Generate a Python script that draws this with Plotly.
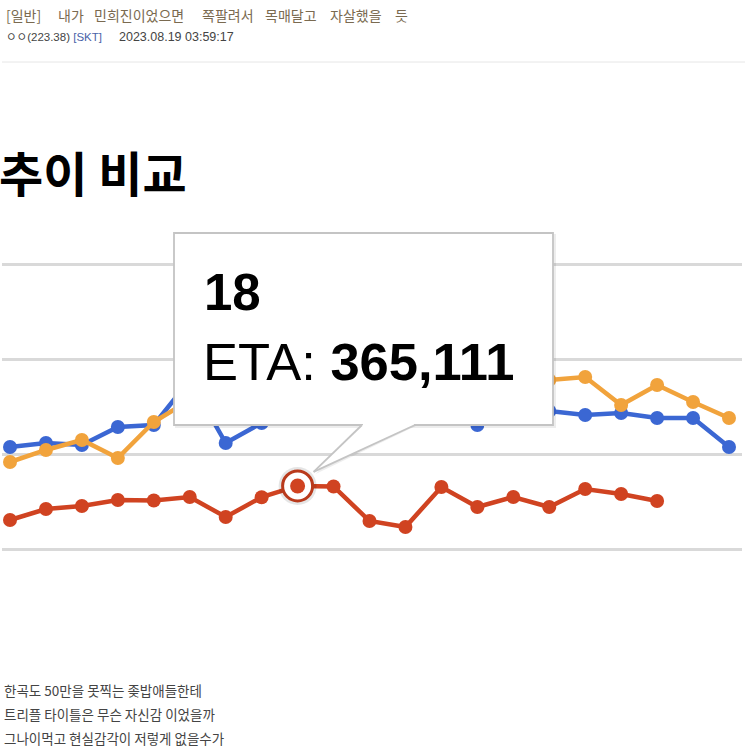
import plotly.graph_objects as go

# ---------------- data ----------------
categories = [10, 11, 12, 13, 14, 15, 16, 17, 18, 19, 20,
              21, 22, 23, 24, 25, 26, 27, 28, 29, 30]
eta = [167900, 231600, 249000, 283700, 281000, 301000, 185300, 300000,
       365111, 362000, 162100, 127400, 359000, 243200, 301000, 243000,
       347400, 318400, 277900]
series_blue = [590500, 613700, 602100, 706300, 717900, 978400, 613700,
               729500, 833700, 862600, 891600, 862600, 804700, 717900,
               775800, 798900, 775800, 787400, 758400, 758400, 590500]
series_orange = [503700, 573200, 631100, 526800, 735300, 862600, 920500,
                 949500, 978400, 990000, 949500, 932100, 961000, 978400,
                 990000, 978400, 995800, 833700, 949500, 851000, 758400]
grid_values = [0, 550000, 1100000, 1650000]
highlight_index = 8

title_text = "추이 비교"
header_words = ["[일반]", "내가", "민희진이었으면", "쪽팔려서", "목매달고", "자살했을", "듯"]
body_lines = ["한곡도 50만을 못찍는 좆밥애들한테",
              "트리플 타이틀은 무슨 자신감 이었을까",
              "그나이먹고 현실감각이 저렇게 없을수가"]

# ---------------- geometry ----------------
W, H = 745, 750
X_FIRST_PX, X_STEP_PX = 10, 35.95          # pixel of first category, pixels per category
Y_BASE_PX, Y_PX_PER_UNIT = 549, 95 / 550000
PLOT_LEFT_PX, PLOT_RIGHT_PX = 2, 742


def px(x):
    return x / W


def py(y):
    return 1 - y / H


x_range = [categories[0] + (PLOT_LEFT_PX - X_FIRST_PX) / X_STEP_PX,
           categories[0] + (PLOT_RIGHT_PX - X_FIRST_PX) / X_STEP_PX]
y_range = [(Y_BASE_PX - H) / Y_PX_PER_UNIT, Y_BASE_PX / Y_PX_PER_UNIT]

BLUE = "#3b67d3"
ORANGE = "#f1a33c"
RED = "#d04321"

fig = go.Figure()

for vals, col, name in [(series_blue, BLUE, "B"), (series_orange, ORANGE, "C"),
                        (eta, RED, "ETA")]:
    fig.add_trace(go.Scatter(
        x=categories[:len(vals)], y=vals, mode="lines+markers", name=name,
        line=dict(color=col, width=4.5), marker=dict(color=col, size=14),
        cliponaxis=False, hoverinfo="skip"))

# highlighted point
hx, hy = categories[highlight_index], eta[highlight_index]
fig.add_trace(go.Scatter(x=[hx], y=[hy], mode="markers",
                         marker=dict(size=38, color="rgba(0,0,0,0.10)"),
                         cliponaxis=False, hoverinfo="skip"))
fig.add_trace(go.Scatter(x=[hx], y=[hy], mode="markers",
                         marker=dict(size=30, color="white",
                                     line=dict(color="#b93a1c", width=3)),
                         cliponaxis=False, hoverinfo="skip"))
fig.add_trace(go.Scatter(x=[hx], y=[hy], mode="markers",
                         marker=dict(size=15, color=RED),
                         cliponaxis=False, hoverinfo="skip"))

# ---------------- tooltip ----------------
bx0, bx1, by0, by1 = 174, 553, 233, 425
hpx = X_FIRST_PX + (hx - categories[0]) * X_STEP_PX
hpy = Y_BASE_PX - hy * Y_PX_PER_UNIT
tip = (hpx + 16, hpy - 14)
tail_l, tail_r = 362, 415

shapes = []
# header separator
shapes.append(dict(type="line", xref="paper", yref="paper", x0=px(2), x1=px(745),
                   y0=py(62), y1=py(62), line=dict(color="#e6e6e6", width=1)))
# shadow
shapes.append(dict(type="rect", xref="paper", yref="paper", layer="above",
                   x0=px(bx0 + 1), x1=px(bx1 + 3), y0=py(by1 + 3), y1=py(by0 + 1),
                   fillcolor="rgba(0,0,0,0.07)", line=dict(width=0)))
shapes.append(dict(type="path", xref="paper", yref="paper", layer="above",
                   path=f"M {px(tail_l+2)} {py(by1)} L {px(tip[0]+2)} {py(tip[1]+2)} L {px(tail_r+3)} {py(by1)} Z",
                   fillcolor="rgba(0,0,0,0.07)", line=dict(width=0)))
# box
shapes.append(dict(type="rect", xref="paper", yref="paper", layer="above",
                   x0=px(bx0), x1=px(bx1), y0=py(by1), y1=py(by0),
                   fillcolor="white", line=dict(color="#c4c4c4", width=1.8)))
# tail
shapes.append(dict(type="path", xref="paper", yref="paper", layer="above",
                   path=f"M {px(tail_l)} {py(by1)} L {px(tip[0])} {py(tip[1])} L {px(tail_r)} {py(by1)} Z",
                   fillcolor="white", line=dict(width=0)))
shapes.append(dict(type="rect", xref="paper", yref="paper", layer="above",
                   x0=px(tail_l + 1), x1=px(tail_r - 1), y0=py(by1 + 1), y1=py(by1 - 2),
                   fillcolor="white", line=dict(width=0)))
for tx in (tail_l, tail_r):
    shapes.append(dict(type="line", xref="paper", yref="paper", layer="above",
                       x0=px(tx), y0=py(by1), x1=px(tip[0]), y1=py(tip[1]),
                       line=dict(color="#c4c4c4", width=1.8)))

annotations = []


def ann(text, x, y, size, color="#000", family="Arial, Liberation Sans", xanchor="left"):
    annotations.append(dict(text=text, x=px(x), y=py(y), xref="paper", yref="paper",
                            xanchor=xanchor, yanchor="middle", showarrow=False,
                            font=dict(size=size, color=color, family=family)))


ann(f"<b>{categories[highlight_index]}</b>", 202, 292, 51)
ann(f"ETA: <b>{eta[highlight_index]:,}</b>", 201, 361, 52.5)

# chart title
ann(f"<b>{title_text}</b>", -3, 171, 48, family="Noto Sans CJK KR")

# header
word_x = [4, 56, 92, 200, 263, 328, 393]
for w, x in zip(header_words, word_x):
    ann(w, x, 15, 14, color="#7a6a50", family="Noto Sans CJK KR")
ann("ㅇㅇ(223.38) <span style='color:#4a63a8'>[SKT]</span>", 4, 37, 11.5,
    color="#444", family="Liberation Sans, Noto Sans CJK KR")
ann("2023.08.19 03:59:17", 117, 37, 12.5, color="#444", family="Liberation Sans, Arial")

for i, line in enumerate(body_lines):
    ann(line, 2, 690 + 24 * i, 13.5, color="#444", family="Noto Sans CJK KR")

fig.update_layout(
    width=W, height=H, margin=dict(l=0, r=0, t=0, b=0),
    paper_bgcolor="white", plot_bgcolor="white", showlegend=False,
    hovermode=False,
    xaxis=dict(domain=[px(PLOT_LEFT_PX), px(PLOT_RIGHT_PX)], range=x_range,
               showgrid=False, zeroline=False, showticklabels=False, showline=False,
               fixedrange=True),
    yaxis=dict(domain=[0, 1], range=y_range, tickvals=grid_values,
               showgrid=True, gridcolor="#d9d9d9", gridwidth=2.5,
               zeroline=False, showticklabels=False, showline=False, fixedrange=True),
    shapes=shapes, annotations=annotations,
)

fig.write_html("out.html", config={"displayModeBar": False})
